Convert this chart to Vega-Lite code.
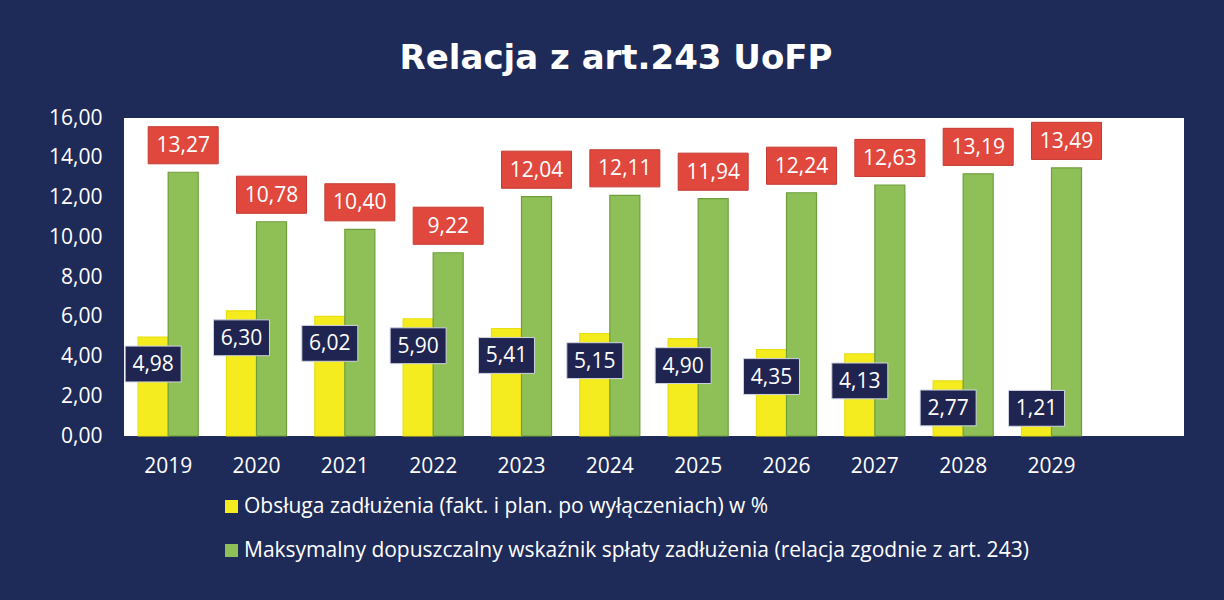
{
  "$schema": "https://vega.github.io/schema/vega-lite/v6.json",
  "width": 1060,
  "height": 318,
  "autosize": {"type": "none"},
  "padding": {"left": 124, "top": 118, "right": 40, "bottom": 164},
  "background": "#1E2A58",
  "config": {
    "locale": {"number": {"decimal": ",", "thousands": " ", "grouping": [3], "currency": ["", " zł"]}},
    "view": {"fill": "#FFFFFF", "stroke": null},
    "font": "Open Sans"
  },
  "title": {
    "text": "Relacja z art.243 UoFP",
    "font": "DejaVu Sans",
    "fontSize": 34,
    "fontWeight": "bold",
    "color": "#FFFFFF",
    "anchor": "middle",
    "dx": -38,
    "baseline": "bottom",
    "offset": -3
  },
  "resolve": {"axis": {"y": "independent"}},
  "data": {
    "values": [
      {"year": "2019", "series": "Obsługa zadłużenia (fakt. i plan. po wyłączeniach) w %", "value": 4.98},
      {"year": "2020", "series": "Obsługa zadłużenia (fakt. i plan. po wyłączeniach) w %", "value": 6.30},
      {"year": "2021", "series": "Obsługa zadłużenia (fakt. i plan. po wyłączeniach) w %", "value": 6.02},
      {"year": "2022", "series": "Obsługa zadłużenia (fakt. i plan. po wyłączeniach) w %", "value": 5.90},
      {"year": "2023", "series": "Obsługa zadłużenia (fakt. i plan. po wyłączeniach) w %", "value": 5.41},
      {"year": "2024", "series": "Obsługa zadłużenia (fakt. i plan. po wyłączeniach) w %", "value": 5.15},
      {"year": "2025", "series": "Obsługa zadłużenia (fakt. i plan. po wyłączeniach) w %", "value": 4.90},
      {"year": "2026", "series": "Obsługa zadłużenia (fakt. i plan. po wyłączeniach) w %", "value": 4.35},
      {"year": "2027", "series": "Obsługa zadłużenia (fakt. i plan. po wyłączeniach) w %", "value": 4.13},
      {"year": "2028", "series": "Obsługa zadłużenia (fakt. i plan. po wyłączeniach) w %", "value": 2.77},
      {"year": "2029", "series": "Obsługa zadłużenia (fakt. i plan. po wyłączeniach) w %", "value": 1.21},
      {"year": "2019", "series": "Maksymalny dopuszczalny wskaźnik spłaty  zadłużenia (relacja zgodnie z art. 243)", "value": 13.27},
      {"year": "2020", "series": "Maksymalny dopuszczalny wskaźnik spłaty  zadłużenia (relacja zgodnie z art. 243)", "value": 10.78},
      {"year": "2021", "series": "Maksymalny dopuszczalny wskaźnik spłaty  zadłużenia (relacja zgodnie z art. 243)", "value": 10.40},
      {"year": "2022", "series": "Maksymalny dopuszczalny wskaźnik spłaty  zadłużenia (relacja zgodnie z art. 243)", "value": 9.22},
      {"year": "2023", "series": "Maksymalny dopuszczalny wskaźnik spłaty  zadłużenia (relacja zgodnie z art. 243)", "value": 12.04},
      {"year": "2024", "series": "Maksymalny dopuszczalny wskaźnik spłaty  zadłużenia (relacja zgodnie z art. 243)", "value": 12.11},
      {"year": "2025", "series": "Maksymalny dopuszczalny wskaźnik spłaty  zadłużenia (relacja zgodnie z art. 243)", "value": 11.94},
      {"year": "2026", "series": "Maksymalny dopuszczalny wskaźnik spłaty  zadłużenia (relacja zgodnie z art. 243)", "value": 12.24},
      {"year": "2027", "series": "Maksymalny dopuszczalny wskaźnik spłaty  zadłużenia (relacja zgodnie z art. 243)", "value": 12.63},
      {"year": "2028", "series": "Maksymalny dopuszczalny wskaźnik spłaty  zadłużenia (relacja zgodnie z art. 243)", "value": 13.19},
      {"year": "2029", "series": "Maksymalny dopuszczalny wskaźnik spłaty  zadłużenia (relacja zgodnie z art. 243)", "value": 13.49}
    ]
  },
  "encoding": {
    "x": {
      "field": "year",
      "type": "nominal",
      "scale": {
        "domain": ["2019", "2020", "2021", "2022", "2023", "2024", "2025", "2026", "2027", "2028", "2029", " "],
        "paddingInner": 0.32,
        "paddingOuter": 0.16
      },
      "axis": {
        "title": null,
        "labelAngle": 0,
        "labelFontSize": 21,
        "labelColor": "#FFFFFF",
        "labelPadding": 19,
        "ticks": false,
        "domain": false
      }
    },
    "xOffset": {
      "field": "series",
      "type": "nominal",
      "scale": {
        "domain": [
          "Obsługa zadłużenia (fakt. i plan. po wyłączeniach) w %",
          "Maksymalny dopuszczalny wskaźnik spłaty  zadłużenia (relacja zgodnie z art. 243)"
        ],
        "paddingInner": 0,
        "paddingOuter": 0
      }
    }
  },
  "layer": [
    {
      "mark": {"type": "bar", "strokeWidth": 1.2},
      "encoding": {
        "y": {
          "field": "value",
          "type": "quantitative",
          "scale": {"domain": [0, 16], "nice": false},
          "axis": {
            "title": null,
            "values": [0, 2, 4, 6, 8, 10, 12, 14, 16],
            "format": ".2f",
            "labelFontSize": 21,
            "labelColor": "#FFFFFF",
            "labelPadding": 22,
            "labelOverlap": false,
            "labelBound": false,
            "ticks": false,
            "domain": false,
            "grid": false
          }
        },
        "color": {
          "field": "series",
          "type": "nominal",
          "scale": {
            "domain": [
              "Obsługa zadłużenia (fakt. i plan. po wyłączeniach) w %",
              "Maksymalny dopuszczalny wskaźnik spłaty  zadłużenia (relacja zgodnie z art. 243)"
            ],
            "range": ["#F4EC1E", "#8FC057"]
          },
          "legend": {
            "title": null,
            "orient": "none",
            "legendX": 97,
            "legendY": 378,
            "direction": "vertical",
            "symbolType": "square",
            "symbolSize": 169,
            "symbolStrokeWidth": 0,
            "labelFontSize": 21,
            "labelColor": "#FFFFFF",
            "labelLimit": 1200,
            "rowPadding": 22,
            "labelOffset": 2
          }
        },
        "stroke": {
          "field": "series",
          "type": "nominal",
          "scale": {
            "domain": [
              "Obsługa zadłużenia (fakt. i plan. po wyłączeniach) w %",
              "Maksymalny dopuszczalny wskaźnik spłaty  zadłużenia (relacja zgodnie z art. 243)"
            ],
            "range": ["#E8DE10", "#6F9E3C"]
          },
          "legend": null
        }
      }
    },
    {
      "transform": [{"filter": "datum.series != 'Obsługa zadłużenia (fakt. i plan. po wyłączeniach) w %'"}],
      "mark": {
        "type": "point",
        "shape": "M-1,-0.53H1V0.53H-1Z",
        "size": 4900,
        "filled": true,
        "opacity": 1,
        "fill": "#E0483E",
        "stroke": "#C43A32",
        "strokeWidth": 1,
        "yOffset": -27
      },
      "encoding": {
        "y": {"field": "value", "type": "quantitative", "axis": null}
      }
    },
    {
      "transform": [{"filter": "datum.series != 'Obsługa zadłużenia (fakt. i plan. po wyłączeniach) w %'"}],
      "mark": {
        "type": "text",
        "color": "#FFFFFF",
        "fontSize": 21,
        "baseline": "middle",
        "align": "center",
        "yOffset": -26
      },
      "encoding": {
        "y": {"field": "value", "type": "quantitative", "axis": null},
        "text": {"field": "value", "type": "quantitative", "format": ".2f"}
      }
    },
    {
      "transform": [
        {"filter": "datum.series == 'Obsługa zadłużenia (fakt. i plan. po wyłączeniach) w %'"},
        {"calculate": "max(datum.value, 2.75)", "as": "labelpos"}
      ],
      "mark": {
        "type": "point",
        "shape": "M-1,-0.64H1V0.64H-1Z",
        "size": 3136,
        "filled": true,
        "opacity": 1,
        "fill": "#1F2550",
        "stroke": "#D0D3E0",
        "strokeWidth": 1,
        "yOffset": 27
      },
      "encoding": {
        "y": {"field": "labelpos", "type": "quantitative", "axis": null}
      }
    },
    {
      "transform": [
        {"filter": "datum.series == 'Obsługa zadłużenia (fakt. i plan. po wyłączeniach) w %'"},
        {"calculate": "max(datum.value, 2.75)", "as": "labelpos"}
      ],
      "mark": {
        "type": "text",
        "color": "#FFFFFF",
        "fontSize": 21,
        "baseline": "middle",
        "align": "center",
        "yOffset": 28
      },
      "encoding": {
        "y": {"field": "labelpos", "type": "quantitative", "axis": null},
        "text": {"field": "value", "type": "quantitative", "format": ".2f"}
      }
    }
  ]
}
